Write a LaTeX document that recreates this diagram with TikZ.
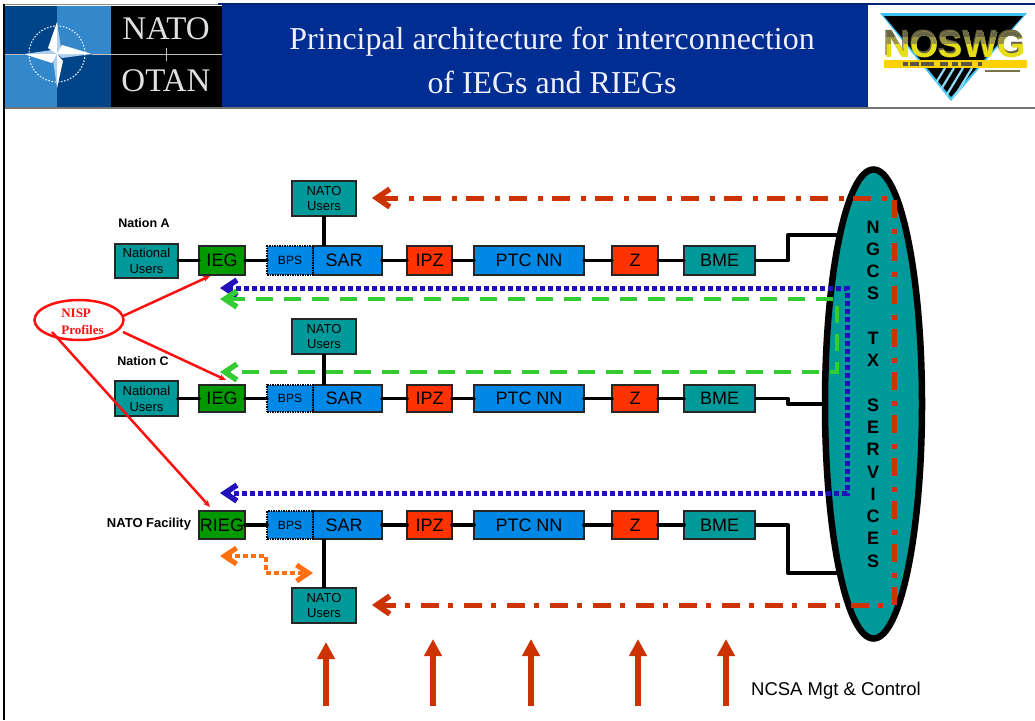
\documentclass[tikz,border=0pt]{standalone}
\usepackage{fontspec}
\setmainfont{Liberation Sans}
\newfontfamily\serifx{Liberation Serif}
\usetikzlibrary{arrows.meta,shapes.geometric}
\definecolor{teal1}{HTML}{009999}
\definecolor{blue1}{HTML}{0088E6}
\definecolor{green1}{HTML}{009900}
\definecolor{red1}{HTML}{FF3300}
\definecolor{rust}{HTML}{CC3300}
\definecolor{navy1}{HTML}{002D91}
\definecolor{dots}{HTML}{2211BB}
\definecolor{greenl}{HTML}{33CC33}
\definecolor{orange1}{HTML}{FF6F10}
\definecolor{logodark}{HTML}{004488}
\definecolor{logolight}{HTML}{3388CC}
\definecolor{nisred}{HTML}{FF1010}
\tikzset{
 boxx/.style={draw=black!85,line width=1.2pt,inner sep=0pt,outer sep=0pt,align=center,text=black},
 tealbox/.style={boxx,fill=teal1,font=\fontsize{13}{15.7}\selectfont},
 bigteal/.style={boxx,fill=teal1,font=\fontsize{18}{20}\selectfont},
 bluebox/.style={boxx,fill=blue1,font=\fontsize{18}{20}\selectfont},
 greenbox/.style={boxx,fill=green1,font=\fontsize{18}{20}\selectfont},
 redbox/.style={boxx,fill=red1,font=\fontsize{18}{20}\selectfont},
 bpsbox/.style={boxx,fill=blue1,draw=black,dash pattern=on 1.5pt off 1pt,line width=1.5pt,font=\fontsize{12}{14}\selectfont},
 wire/.style={line width=3.8pt,black,line cap=round},
 sidewire/.style={line width=3.4pt,black,line join=round},
 redline/.style={line width=2.5pt,nisred,-{Stealth[length=7pt,width=6pt]}},
 rustline/.style={line width=5pt,rust,dash pattern=on 18pt off 11pt on 5pt off 9pt,
   {Straight Barb[length=13pt,width=18pt,line width=5.5pt]}-{Straight Barb[length=13pt,width=18pt,line width=5.5pt]}},
 dotline/.style={line width=5pt,dots,dash pattern=on 5pt off 3pt,
   {Straight Barb[length=12pt,width=16pt,line width=5.5pt]}-{Straight Barb[length=12pt,width=16pt,line width=5.5pt]}},
 greenline/.style={line width=4.6pt,greenl,dash pattern=on 17pt off 11pt,
   {Straight Barb[length=12pt,width=16pt,line width=5.5pt]}-{Straight Barb[length=12pt,width=16pt,line width=5.5pt]}},
 orangeline/.style={line width=4.6pt,orange1,dash pattern=on 5pt off 3pt,
   {Straight Barb[length=12pt,width=16pt,line width=5pt]}-{Straight Barb[length=12pt,width=16pt,line width=5pt]}},
 upline/.style={line width=6.5pt,rust,-{Triangle[length=17pt,width=17pt]}},
 lab/.style={font=\bfseries\fontsize{12.5}{14}\selectfont,inner sep=0pt,text=black},
 logotext/.style={font=\serifx\fontsize{33}{36}\selectfont,text=white!88!black,inner sep=0pt},
 titletext/.style={font=\serifx\fontsize{31.9}{44}\selectfont,text=white!94!blue,align=center,inner sep=0pt},
 ngcs/.style={font=\bfseries\fontsize{18}{22.27}\selectfont,inner sep=0pt,text=black,align=center},
 logoword/.style={font=\bfseries\fontsize{36.5}{36}\selectfont,inner sep=0pt},
}
\newcommand{\bx}[7]{\node[#1,minimum width=#4pt-#2pt,minimum height=#5pt-#3pt] (#6) at ({(#2+#4)/2},{(#3+#5)/2}) {#7};}
\begin{document}
\begin{tikzpicture}[x=1pt,y=-1pt]
\useasboundingbox (0,0) rectangle (1035,720);
\fill[white] (0,0) rectangle (1035,720);
% header band
\fill[black] (111,6) rectangle (222,108);
\fill[navy1] (222,4) rectangle (868,107);
\fill[logodark] (5,6) rectangle (57,54);
\fill[logodark] (57,54) rectangle (111,108);
\fill[logolight] (57,6) rectangle (111,54);
\fill[logolight] (5,54) rectangle (57,108);
\draw[white!85!logolight,line width=1.1pt,dash pattern=on 1.6pt off 1.6pt] (57,54) circle (28);
\fill[white!60!logolight] (57,22) -- (61,48) -- (57,54) -- cycle
  (92,54) -- (62,58) -- (57,54) -- cycle
  (57,88) -- (53,60) -- (57,54) -- cycle
  (24,54) -- (52,50) -- (57,54) -- cycle;
\fill[white] (57,22) -- (57,54) -- (48,48) -- cycle
  (92,54) -- (57,54) -- (62,45) -- cycle
  (57,88) -- (57,54) -- (63,61) -- cycle
  (24,54) -- (57,54) -- (52,63) -- cycle;
\draw[white!75!black,line width=1pt] (5,54) -- (24,54) (92,54) -- (222,54);
\draw[white!75!black,line width=1pt] (166,48) -- (166,61);
\node[logotext] (nato) at (166,29) {NATO};
\node[logotext] (otan) at (166,81) {OTAN};
\node[titletext] (title) at (552,60) {Principal architecture for interconnection\\of IEGs and RIEGs};
\draw[black!20!navy1,line width=1.6pt] (218,4) -- (1035,4);
\draw[black!45,line width=1pt] (3,4) -- (218,4);
\draw[black!55,line width=1.2pt] (3,108) -- (1035,108);
\draw[black,line width=1.6pt] (4,4) -- (4,720);
% NOSWG logo
\fill[cyan!75] (880,13) -- (1027,13) -- (951,101) -- cycle;
\fill[black] (884,16) -- (1023,16) -- (951,97) -- cycle;
\begin{scope}
\clip (880,13) -- (1027,13) -- (951,101) -- cycle;
\foreach \s in {0,9,18,27,36}{
 \draw[cyan!45,line width=2.2pt] (925+\s,101) -- (945+\s,68);
}
\end{scope}
\fill[yellow!70!orange] (884,60) rectangle (1027,68);
\fill[black!60!yellow] (985,70) rectangle (1020,72);
\foreach \a/\b in {903/908,910/919,921/934,940/948,952/958,961/972,978/982}{
 \fill[black!75!yellow] (\a,61.5) rectangle (\b,66);
}
\node[logoword,text=black!70!yellow] (noswb) at (954,43) {NOSWG};
\node[logoword,text=yellow!90!black] (nosw) at (955,45) {NOSWG};
\begin{scope}
\clip (880,28) rectangle (1030,43);
\node[logoword,text=black!45!yellow] (noswm) at (955,45) {NOSWG};
\end{scope}
\begin{scope}
\clip (880,28) rectangle (1030,36);
\node[logoword,text=black!68!yellow] (noswt) at (955,45) {NOSWG};
\end{scope}
% boxes, row 1
\bx{tealbox}{115}{244}{178}{278}{nu1}{National\\Users}
\bx{greenbox}{199}{246}{245}{275}{ieg1}{IEG}
\bx{bluebox}{313}{246}{382}{275}{sar1}{SAR\hspace{7pt}}
\bx{bpsbox}{267}{246}{313}{275}{bps1}{BPS}
\bx{redbox}{407}{246}{452}{275}{ipz1}{IPZ}
\bx{bluebox}{474}{246}{584}{275}{ptc1}{PTC NN}
\bx{redbox}{612}{246}{658}{275}{z1}{Z}
\bx{bigteal}{684}{246}{755}{275}{bme1}{BME}
\bx{tealbox}{292}{181}{356}{216}{nat1}{NATO\\Users}
% row 2
\bx{tealbox}{115}{381}{178}{416}{nu2}{National\\Users}
\bx{greenbox}{199}{385}{245}{412}{ieg2}{IEG}
\bx{bluebox}{313}{385}{382}{412}{sar2}{SAR\hspace{7pt}}
\bx{bpsbox}{267}{385}{313}{412}{bps2}{BPS}
\bx{redbox}{407}{385}{452}{412}{ipz2}{IPZ}
\bx{bluebox}{474}{385}{584}{412}{ptc2}{PTC NN}
\bx{redbox}{612}{385}{658}{412}{z2}{Z}
\bx{bigteal}{684}{385}{755}{412}{bme2}{BME}
\bx{tealbox}{292}{319}{356}{354}{nat2}{NATO\\Users}
% row 3
\bx{greenbox}{199}{511}{245}{539}{rieg}{RIEG}
\bx{bluebox}{313}{511}{382}{539}{sar3}{SAR\hspace{7pt}}
\bx{bpsbox}{267}{511}{313}{539}{bps3}{BPS}
\bx{redbox}{407}{511}{452}{539}{ipz3}{IPZ}
\bx{bluebox}{474}{511}{584}{539}{ptc3}{PTC NN}
\bx{redbox}{612}{511}{658}{539}{z3}{Z}
\bx{bigteal}{684}{511}{755}{539}{bme3}{BME}
\bx{tealbox}{292}{588}{356}{623}{nat3}{NATO\\Users}
% row wires
\foreach \a/\b in {nu1/ieg1,ieg1/bps1,sar1/ipz1,ipz1/ptc1,ptc1/z1,z1/bme1,
  nu2/ieg2,ieg2/bps2,sar2/ipz2,ipz2/ptc2,ptc2/z2,z2/bme2,
  rieg/bps3,sar3/ipz3,ipz3/ptc3,ptc3/z3,z3/bme3}{
 \draw[wire] (\a.east |- \b.west) -- (\b.west);
}
\draw[wire,line cap=butt] (nat1.south) -- (nat1.south |- sar1.north);
\draw[wire,line cap=butt] (nat2.south) -- (nat2.south |- sar2.north);
\draw[wire,line cap=butt] (sar3.south -| nat3.north) -- (nat3.north);
% feeds into the ellipse
\coordinate (c1a) at (788,260.5);
\coordinate (c1b) at (788,235);
\coordinate (c1c) at (840,235);
\coordinate (c2a) at (788,398.5);
\coordinate (c2b) at (788,404);
\coordinate (c2c) at (830,404);
\coordinate (c3a) at (788,525);
\coordinate (c3b) at (788,573);
\coordinate (c3c) at (840,573);
\draw[sidewire] (bme1.east) -- (c1a) -- (c1b) -- (c1c);
\draw[sidewire] (bme2.east) -- (c2a) -- (c2b) -- (c2c);
\draw[sidewire] (bme3.east) -- (c3a) -- (c3b) -- (c3c);
% NGCS ellipse
\node[ellipse,draw=black,fill=teal1,line width=6.5pt,minimum width=97pt,minimum height=469pt,inner sep=0pt] (ngcsnode) at (873.5,404) {};
\node[ngcs] (ngcstext) at (873,394) {N\\G\\C\\S\\[22.27pt]T\\X\\[22.27pt]S\\E\\R\\V\\I\\C\\E\\S};
% labels
\node[lab] (la) at (144,223) {Nation A};
\node[lab] (lc) at (143,361) {Nation C};
\node[lab,font=\bfseries\fontsize{13}{14}\selectfont] (lf) at (149,524) {NATO Facility};
\node[font=\fontsize{18.5}{20}\selectfont,inner sep=0pt,text=black] (ncsa) at (836,690.5) {NCSA Mgt \& Control};
% dashed flows
\coordinate (r1) at (372,198);
\coordinate (r2) at (894,198);
\coordinate (r3) at (894,605);
\coordinate (r4) at (372,605);
\draw[rustline] (r1) -- (r2) -- (r3) -- (r4);
\coordinate (b1) at (220,288);
\coordinate (b2) at (847,288);
\coordinate (b3) at (847,493);
\coordinate (b4) at (220,493);
\draw[dotline] (b1) -- (b2) -- (b3) -- (b4);
\coordinate (g1) at (220,299);
\coordinate (g2) at (837,299);
\coordinate (g3) at (837,372);
\coordinate (g4) at (220,372);
\draw[greenline] (g1) -- (g2) -- (g3) -- (g4);
\coordinate (o1) at (220,556);
\coordinate (o2) at (266,556);
\coordinate (o3) at (266,573);
\coordinate (o4) at (313,573);
\draw[orangeline] (o1) -- (o2) -- (o3) -- (o4);
% NISP
\node[ellipse,draw=nisred,line width=2.5pt,minimum width=89pt,minimum height=40pt,inner sep=0pt] (nisp) at (79,320) {};
\node[font=\serifx\bfseries\fontsize{13}{16.5}\selectfont,text=nisred,align=left,inner sep=0pt] (nisplab) at (82.5,322) {NISP\\Profiles};
\coordinate (n1) at (123,316);
\coordinate (n2) at (123,332);
\coordinate (n3) at (52,332);
\coordinate (t1) at (210,276);
\coordinate (t2) at (226,380);
\coordinate (t3) at (210,507);
\draw[redline] (n1) -- (t1);
\draw[redline] (n2) -- (t2);
\draw[redline] (n3) -- (t3);
% management arrows
\foreach \n/\x/\t in {u1/326/642,u2/433/639,u3/531/639,u4/638/639,u5/726/639}{
 \coordinate (\n s) at (\x,706);
 \coordinate (\n e) at (\x,\t);
 \draw[upline] (\n s) -- (\n e);
}
\end{tikzpicture}
\end{document}
